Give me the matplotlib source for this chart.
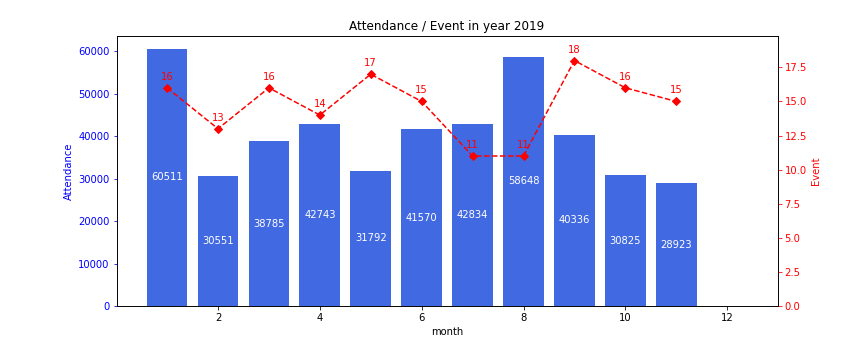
import matplotlib
matplotlib.use("Agg")
import matplotlib.pyplot as plt
import numpy as np

months = list(range(1, 13))
attendance = [60511, 30551, 38785, 42743, 31792, 41570, 42834, 58648, 40336, 30825, 28923, 0]
event_months = list(range(1, 12))
events = [16, 13, 16, 14, 17, 15, 11, 11, 18, 16, 15]

fig, ax = plt.subplots(figsize=(12, 5), dpi=72)
fig.subplots_adjust(left=0.135, right=0.9, top=0.9, bottom=0.15)

bars = ax.bar(months, attendance, color="royalblue", width=0.8)
for m, v in zip(months[:11], attendance[:11]):
    ax.text(m, v / 2, str(v), ha="center", va="center", color="white", fontsize=10)
ax.set_xlabel("month")
ax.set_ylabel("Attendance", color="blue")
ax.tick_params(axis="y", colors="blue")
ax.set_title("Attendance / Event in year 2019")

ax2 = ax.twinx()
ax2.plot(event_months, events, "rD--", markersize=5)
for m, e in zip(event_months, events):
    ax2.annotate(str(e), (m, e), xytext=(0, 6), textcoords="offset points",
                 ha="center", va="bottom", color="red", fontsize=10)
ax2.set_ylim(0, max(events) * 1.1)
ax2.set_ylabel("Event", color="red")
ax2.tick_params(axis="y", colors="red")

fig.savefig("out.png", dpi=72)
